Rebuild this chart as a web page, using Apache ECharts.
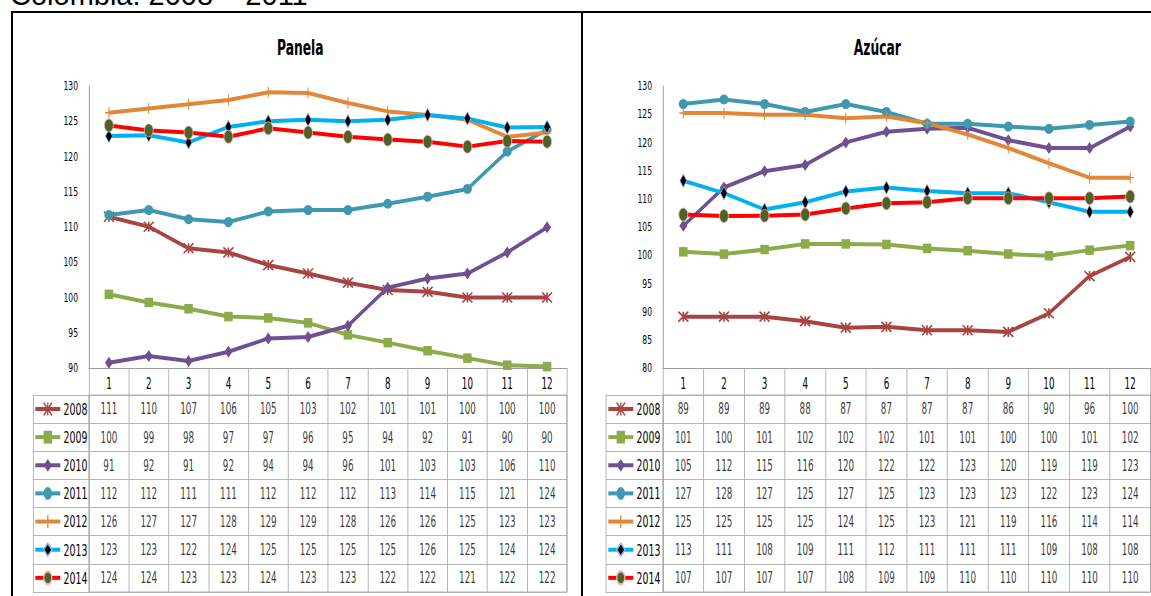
<!DOCTYPE html>
<html>
<head>
<meta charset="utf-8">
<title>Colombia: 2008 – 2011</title>
<script src="https://cdn.jsdelivr.net/npm/echarts@6.0.0/dist/echarts.min.js"></script>
<style>
  html, body { margin: 0; padding: 0; background: #fff; }
  body { position: relative; width: 1151px; height: 596px; overflow: hidden; }
  #titulo {
    position: absolute; left: 10px; top: -22px;
    font-family: "Liberation Sans", Arial, sans-serif; font-size: 29px; line-height: 34px;
    color: #000; white-space: nowrap;
  }
  .panel { position: absolute; top: 0; height: 596px; overflow: hidden; }
  .lienzo { position: absolute; left: 0; top: 0; height: 596px; transform-origin: 0 0; }
  .linea { position: absolute; background: #000; pointer-events: none; }
</style>
</head>
<body>
<div id="titulo">Colombia: 2008 – 2011</div>
<div class="panel" style="left:0;width:581px"><div id="panela" class="lienzo"></div></div>
<div class="panel" style="left:583px;width:568px"><div id="azucar" class="lienzo"></div></div>
<div class="linea" style="left:11px;top:11px;width:1140px;height:2px"></div>
<div class="linea" style="left:11px;top:11px;width:2px;height:585px"></div>
<div class="linea" style="left:581px;top:11px;width:2px;height:585px"></div>
<script>
// categorías
const meses = ['1', '2', '3', '4', '5', '6', '7', '8', '9', '10', '11', '12'];
const anios = ['2008', '2009', '2010', '2011', '2012', '2013', '2014'];

// Panela (índice)
const panela2008 = [111.46, 110.04, 106.98, 106.4, 104.6, 103.4, 102.1, 101.06, 100.8, 100.0, 100.0, 100.0];
const panela2009 = [100.45, 99.3, 98.4, 97.3, 97.1, 96.4, 94.7, 93.6, 92.45, 91.4, 90.4, 90.2];
const panela2010 = [90.75, 91.7, 91.0, 92.3, 94.2, 94.4, 96.0, 101.4, 102.7, 103.4, 106.4, 109.96];
const panela2011 = [111.7, 112.4, 111.1, 110.7, 112.2, 112.4, 112.4, 113.3, 114.3, 115.4, 120.7, 123.8];
const panela2012 = [126.2, 126.8, 127.4, 128.0, 129.1, 129.0, 127.6, 126.4, 125.9, 125.2, 122.8, 123.4];
const panela2013 = [122.9, 123.0, 122.0, 124.2, 125.0, 125.2, 125.0, 125.2, 125.9, 125.4, 124.1, 124.2];
const panela2014 = [124.4, 123.7, 123.4, 122.8, 124.0, 123.4, 122.8, 122.4, 122.1, 121.4, 122.2, 122.1];

// Azúcar
const azucar2008 = [89.1, 89.1, 89.1, 88.3, 87.15, 87.3, 86.7, 86.7, 86.4, 89.7, 96.3, 99.7];
const azucar2009 = [100.6, 100.2, 101.0, 102.0, 102.0, 101.9, 101.2, 100.8, 100.2, 99.9, 100.9, 101.7];
const azucar2010 = [105.2, 112.0, 114.9, 116.0, 120.0, 121.9, 122.4, 122.6, 120.4, 119.0, 119.0, 122.8];
const azucar2011 = [126.8, 127.6, 126.8, 125.4, 126.8, 125.4, 123.3, 123.3, 122.8, 122.4, 123.1, 123.7];
const azucar2012 = [125.2, 125.2, 124.9, 124.9, 124.3, 124.6, 123.4, 121.4, 119.0, 116.3, 113.75, 113.75];
const azucar2013 = [113.2, 111.0, 108.1, 109.4, 111.3, 112.0, 111.4, 111.0, 111.0, 109.4, 107.7, 107.7];
const azucar2014 = [107.2, 106.95, 107.0, 107.2, 108.3, 109.2, 109.4, 110.1, 110.1, 110.1, 110.1, 110.4];

// el original viene comprimido en horizontal: se dibuja más ancho y se escala en x
const S = 0.65;
const fuente = '"DejaVu Sans Condensed", "DejaVu Sans", sans-serif';
const gris = '#a6a6a6';

// estilo de cada año (color de línea + marcador tipo Excel); tamaños en px reales
const estilos = [
  { color: '#a84442', symbol: 'path://M0,0L10,10M10,0L0,10M5,0L5,10', size: [10, 10], border: '#a84442', bw: 2 },
  { color: '#8cab4a', symbol: 'rect', size: [8.5, 9.5] },
  { color: '#6f5092', symbol: 'diamond', size: [8, 12] },
  { color: '#3e98b0', symbol: 'circle', size: [9, 10] },
  { color: '#e0873a', symbol: 'path://M0,5L10,5M5,0L5,10', size: [8, 11], border: '#e0873a', bw: 1.5 },
  { color: '#00b0f0', symbol: 'diamond', size: [7, 13], fill: '#000', border: '#8eb4e3', bw: 1 },
  { color: '#ff0000', symbol: 'circle', size: [9, 13], fill: '#4f6228', border: '#e6b9b8', bw: 1 }
];

function px(v) { return v / S; }

function crearPanel(dom, anchoReal, titulo, tituloX, series, yMin, gridLeft, gridWidth, colLeyenda) {
  dom.style.width = px(anchoReal) + 'px';
  dom.style.transform = 'scaleX(' + S + ')';
  const chart = echarts.init(dom, null, { renderer: 'svg' });

  const lineas = series.map(function (valores, i) {
    const e = estilos[i];
    return {
      name: anios[i],
      type: 'line',
      xAxisIndex: 0,
      yAxisIndex: 0,
      data: valores,
      symbol: e.symbol,
      symbolSize: [px(e.size[0]), e.size[1]],
      showSymbol: true,
      lineStyle: { color: e.color, width: 4 },
      itemStyle: {
        color: e.fill || e.color,
        borderColor: e.border || e.fill || e.color,
        borderWidth: e.bw || 0
      }
    };
  });

  // celdas de la tabla de datos (valores redondeados)
  const celdas = [];
  series.forEach(function (valores, fila) {
    valores.forEach(function (v, col) {
      celdas.push([col, fila, Math.round(v)]);
    });
  });

  const option = {
    animation: false,
    textStyle: { fontFamily: fuente },
    title: {
      text: titulo,
      left: px(tituloX),
      top: 32,
      textAlign: 'center',
      textStyle: { fontFamily: fuente, fontSize: 21, fontWeight: 'bold', color: '#000' }
    },
    legend: {
      data: anios,
      orient: 'vertical',
      left: px(gridLeft - colLeyenda + 1),
      top: 401,
      padding: 0,
      itemWidth: px(25),
      itemHeight: 16,
      itemGap: 12.14,
      selectedMode: false,
      lineStyle: { width: 4 },
      textStyle: { fontFamily: fuente, fontSize: 16, lineHeight: 16, color: '#000' }
    },
    grid: [
      { left: px(gridLeft), top: 86, width: px(gridWidth), height: 282 },
      { left: px(gridLeft), top: 395, width: px(gridWidth), height: 197, show: true, borderColor: gris, borderWidth: 1 }
    ],
    xAxis: [
      {
        gridIndex: 0,
        type: 'category',
        data: meses,
        boundaryGap: true,
        axisLine: { show: true, lineStyle: { color: '#868686', width: 1 } },
        axisTick: { show: true, interval: 0, length: 27, lineStyle: { color: gris } },
        axisLabel: { interval: 0, margin: 8, fontSize: 15, color: '#000', fontFamily: fuente },
        splitLine: { show: false }
      },
      {
        gridIndex: 1,
        type: 'category',
        data: meses,
        boundaryGap: true,
        axisLine: { show: false },
        axisTick: { show: false },
        axisLabel: { show: false },
        splitLine: { show: true, interval: 0, lineStyle: { color: gris, width: 1 } }
      }
    ],
    yAxis: [
      {
        gridIndex: 0,
        type: 'value',
        min: yMin,
        max: 130,
        interval: 5,
        axisLine: { show: true, lineStyle: { color: '#868686', width: 1 } },
        axisTick: { show: false },
        axisLabel: { margin: px(11), fontSize: 13, color: '#000', fontFamily: fuente },
        splitLine: { show: false }
      },
      {
        gridIndex: 1,
        type: 'category',
        data: anios,
        inverse: true,
        boundaryGap: true,
        axisLine: { show: true, lineStyle: { color: gris, width: 1 } },
        axisTick: { show: true, interval: 0, length: px(colLeyenda), lineStyle: { color: gris } },
        axisLabel: { show: false },
        splitLine: { show: true, interval: 0, lineStyle: { color: gris, width: 1 } }
      },
      {
        gridIndex: 1,
        type: 'category',
        data: anios,
        inverse: true,
        position: 'left',
        offset: px(colLeyenda),
        axisLine: { show: true, lineStyle: { color: gris, width: 1 } },
        axisTick: { show: false },
        axisLabel: { show: false },
        splitLine: { show: false }
      }
    ],
    series: lineas.concat([{
      name: 'tabla',
      type: 'scatter',
      xAxisIndex: 1,
      yAxisIndex: 1,
      data: celdas,
      symbolSize: 1,
      silent: true,
      itemStyle: { color: 'rgba(0,0,0,0)' },
      label: {
        show: true,
        position: 'inside',
        formatter: function (p) { return p.value[2]; },
        fontSize: 15,
        color: '#000',
        fontFamily: fuente
      }
    }])
  };

  chart.setOption(option);
  return chart;
}

window.addEventListener('load', function () {
  crearPanel(document.getElementById('panela'), 581, 'Panela', 297,
    [panela2008, panela2009, panela2010, panela2011, panela2012, panela2013, panela2014],
    90, 89, 478, 56);
  crearPanel(document.getElementById('azucar'), 568, 'Azúcar', 291,
    [azucar2008, azucar2009, azucar2010, azucar2011, azucar2012, azucar2013, azucar2014],
    80, 80, 487.5, 57);
});
</script>
</body>
</html>
